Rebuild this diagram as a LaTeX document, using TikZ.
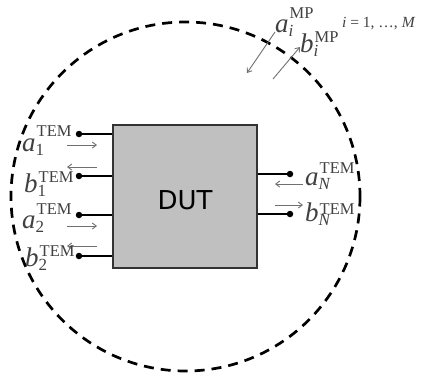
\documentclass[tikz,border=0pt]{standalone}
\usepackage{fontspec}
\setmainfont{Liberation Serif}
\newfontfamily\dutfont{DejaVu Sans}
\usetikzlibrary{arrows.meta}
\definecolor{boxgray}{HTML}{C0C0C0}
\definecolor{lblgray}{HTML}{404040}
\definecolor{arrgray}{HTML}{707070}
\newcommand\plab[4]{%
{\fontsize{27}{27}\selectfont\textit{#1}}%
\rlap{\raisebox{-4pt}{\fontsize{17}{17}\selectfont #2}}%
\raisebox{#4}{\fontsize{16.5}{16.5}\selectfont\kern1pt #3}}
\begin{document}
\begin{tikzpicture}[x=1pt,y=-1pt,
  lbl/.style={anchor=base west,inner sep=0pt,text=lblgray},
  wave/.style={draw=arrgray,line width=0.9pt,-{Straight Barb[length=4pt,width=6pt,line width=0.9pt]}},
  port/.style={draw=black,line width=1.3pt},
  dot/.style={circle,fill=black,inner sep=0pt,minimum size=6.5pt}]
\useasboundingbox (0,0) rectangle (430,378);
% surface
\draw[line width=2.7pt,dash pattern=on 10pt off 7pt] (185.5,196.5) circle (174.5);
% DUT
\node[draw=black!80,line width=1.2pt,fill=boxgray,minimum width=144pt,minimum height=143pt,inner sep=0pt] (dut) at (185,196.5) {};
\node[inner sep=0pt] (dutlbl) at (185,200) {\dutfont\fontsize{26}{26}\selectfont DUT};
% port dots
\node[dot] (p1) at (79,134) {};
\node[dot] (p2) at (79,176) {};
\node[dot] (p3) at (79,215) {};
\node[dot] (p4) at (79,256) {};
\node[dot] (q1) at (290,174) {};
\node[dot] (q2) at (290,214) {};
\draw[port] (p1) -- (p1 -| dut.west);
\draw[port] (p2) -- (p2 -| dut.west);
\draw[port] (p3) -- (p3 -| dut.west);
\draw[port] (p4) -- (p4 -| dut.west);
\draw[port] (q1) -- (q1 -| dut.east);
\draw[port] (q2) -- (q2 -| dut.east);
% wave arrows
\coordinate (a1s) at (67,145); \coordinate (a1e) at (97,145);
\coordinate (b1s) at (97,167); \coordinate (b1e) at (67,167);
\coordinate (a2s) at (67,226); \coordinate (a2e) at (97,226);
\coordinate (b2s) at (97,246); \coordinate (b2e) at (67,246);
\coordinate (aNs) at (303,184); \coordinate (aNe) at (275,184);
\coordinate (bNs) at (275,205); \coordinate (bNe) at (303,205);
\coordinate (ais) at (275,32); \coordinate (aie) at (247,73);
\coordinate (bis) at (273,79); \coordinate (bie) at (300,47);
\draw[wave] (a1s) -- (a1e);
\draw[wave] (b1s) -- (b1e);
\draw[wave] (a2s) -- (a2e);
\draw[wave] (b2s) -- (b2e);
\draw[wave] (aNs) -- (aNe);
\draw[wave] (bNs) -- (bNe);
\draw[wave] (ais) -- (aie);
\draw[wave] (bis) -- (bie);
% labels
\node[lbl] (la1) at (22,151) {\plab{a}{1}{TEM}{15pt}};
\node[lbl] (lb1) at (24,192) {\plab{b}{1}{TEM}{10pt}};
\node[lbl] (la2) at (22,228) {\plab{a}{2}{TEM}{14pt}};
\node[lbl] (lb2) at (25,266) {\plab{b}{2}{TEM}{10pt}};
\node[lbl] (laN) at (305,185) {\plab{a}{\textit{N}}{TEM}{12pt}};
\node[lbl] (lbN) at (305,221) {\plab{b}{\textit{N}}{TEM}{7pt}};
\node[lbl] (lai) at (275,32) {\plab{a}{\textit{i}}{MP}{14pt}};
\node[lbl] (lbi) at (300,52) {\plab{b}{\textit{i}}{MP}{10pt}};
\node[lbl] (rng) at (342,27) {\fontsize{15.5}{15.5}\selectfont\textit{i}\ =\ 1,\ \ldots,\ \textit{M}};
\end{tikzpicture}
\end{document}
